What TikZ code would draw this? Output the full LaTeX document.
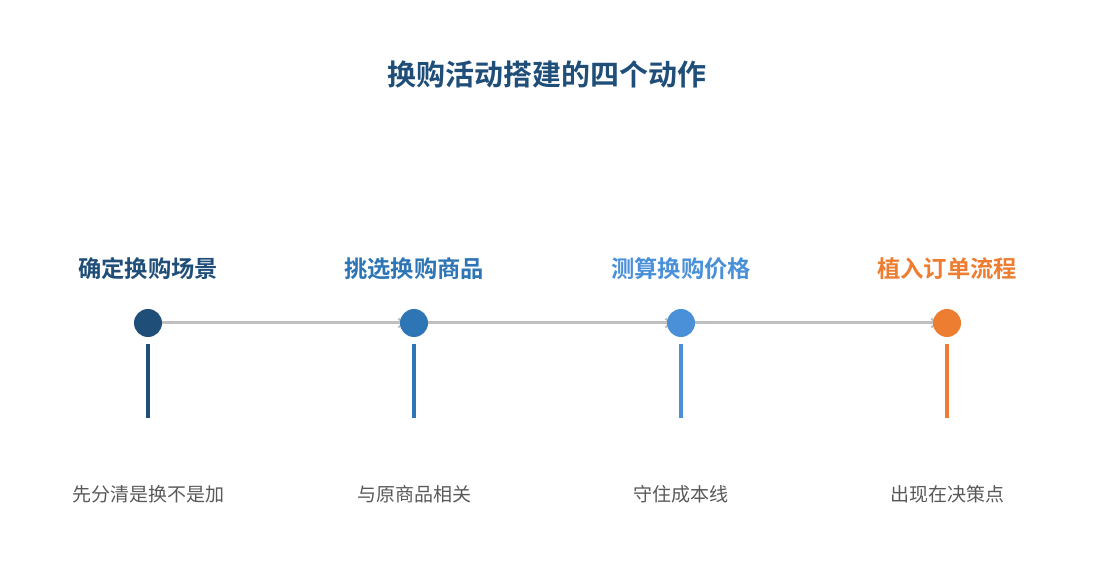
\documentclass[tikz,border=0pt]{standalone}
\usepackage{fontspec}
\newfontfamily\cjk{Noto Sans CJK SC}
\newfontfamily\cjkb{Noto Sans CJK SC Bold}
\usetikzlibrary{arrows.meta}
\pgfdeclarelayer{bg}
\pgfsetlayers{bg,main}
\definecolor{cA}{HTML}{1F4E79}
\definecolor{cB}{HTML}{2E75B6}
\definecolor{cC}{HTML}{4A90D9}
\definecolor{cD}{HTML}{ED7D31}
\definecolor{lineg}{HTML}{BFBFBF}
\definecolor{descg}{HTML}{595959}
\begin{document}
\begin{tikzpicture}[x=1pt,y=-1pt,
  dot/.style={circle,fill=#1,minimum size=28pt,inner sep=0pt},
  stagetitle/.style={font=\cjkb\fontsize{23.3}{27}\selectfont,text=#1,inner sep=0pt},
  desc/.style={font=\cjk\fontsize{19}{23}\selectfont,text=descg,inner sep=0pt},
  conn/.style={draw=lineg,line width=3pt,shorten >=-5pt,-{Straight Barb[length=5pt,width=9pt,line width=2pt]}},
  stem/.style={draw=#1,line width=3.5pt}]
\useasboundingbox (0,0) rectangle (1095,585);
\node[font=\cjkb\fontsize{29}{34}\selectfont,text=cA,inner sep=0pt] (title) at (547,74) {换购活动搭建的四个动作};
\foreach \i/\x/\c/\t/\d in {1/148/cA/确定换购场景/先分清是换不是加,2/414/cB/挑选换购商品/与原商品相关,3/681/cC/测算换购价格/守住成本线,4/947/cD/植入订单流程/出现在决策点}{
  \node[stagetitle=\c] (t\i) at (\x,269) {\t};
  \node[dot=\c] (n\i) at (\x,323) {};
  \coordinate (s\i) at (\x,344);
  \coordinate (e\i) at (\x,418);
  \draw[stem=\c] (s\i) -- (e\i);
  \node[desc] (d\i) at (\x,494) {\d};
}
\begin{pgfonlayer}{bg}
\draw[conn] (n1) -- (n2);
\draw[conn] (n2) -- (n3);
\draw[conn] (n3) -- (n4);
\end{pgfonlayer}
\end{tikzpicture}
\end{document}
